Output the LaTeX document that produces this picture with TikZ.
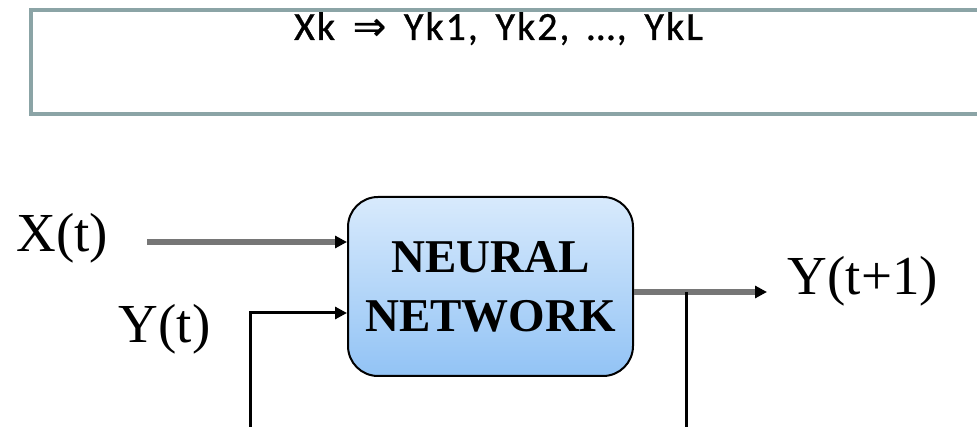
\documentclass[tikz,border=0pt]{standalone}
\usepackage{fontspec}
\setmainfont{Liberation Serif}
\newfontfamily\calibrifont[LetterSpace=5,WordSpace=1.6,FakeBold=0.7]{Carlito}
\newfontfamily\symbolfont[FakeBold=0.5]{DejaVu Sans}
\usetikzlibrary{arrows.meta}
\definecolor{framegray}{RGB}{139,164,166}
\definecolor{wiregray}{RGB}{118,118,118}
\definecolor{nntop}{RGB}{216,234,252}
\definecolor{nnbottom}{RGB}{146,195,245}
\tikzset{
  label/.style={font=\fontsize{55}{60}\selectfont, inner sep=0pt, anchor=base},
  nnbox/.style={draw=black, line width=2pt, rounded corners=30pt,
    top color=nntop, bottom color=nnbottom,
    minimum width=285pt, minimum height=179pt, inner sep=0pt,
    align=center, font=\fontsize{47}{59}\selectfont\bfseries},
  graywire/.style={draw=wiregray, line width=5.5pt,
    -{Triangle[length=12pt,width=12pt,color=black]}},
  blackwire/.style={draw=black, line width=3pt},
  blackarrow/.style={blackwire, -{Triangle[length=12pt,width=12pt,color=black]}}
}
\begin{document}
\begin{tikzpicture}[x=1pt,y=-1pt]
\useasboundingbox (0,0) rectangle (977,427);
\fill[white] (0,0) rectangle (977,427);

% header frame (runs off the right edge)
\draw[framegray, line width=4.5pt] (990,10) -- (31,10) -- (31,114) -- (990,114);
\node[font=\calibrifont\fontsize{40}{46}\selectfont, inner sep=0pt, anchor=base]
  (rule) at (498.5,40) {Xk {\symbolfont\fontsize{40}{46}\selectfont ⇒} Yk1, Yk2, …, YkL};

% network block
\node[nnbox] (nn) at (490.5,286.5) {NEURAL\\NETWORK};

% signal labels
\node[label] (xt) at (62.5,252) {X(t)};
\node[label] (yt) at (164.5,343) {Y(t)};
\node[label] (yt1) at (863,295) {Y(t+1)};

% wire end points
\coordinate (xstart) at (147,242);
\coordinate (ystart) at (250,427);
\coordinate (yentry) at (347,313);
\coordinate (outend) at (767,292);
\coordinate (tap) at (686,292);
\coordinate (tapend) at (686,427);

% connectors
\draw[graywire] (xstart) -- (xstart -| nn.west);
\draw[blackarrow] (ystart) |- (yentry -| nn.west);
\draw[graywire] (outend -| nn.east) -- (outend);
\draw[blackwire] (tap) -- (tapend);
\end{tikzpicture}
\end{document}
